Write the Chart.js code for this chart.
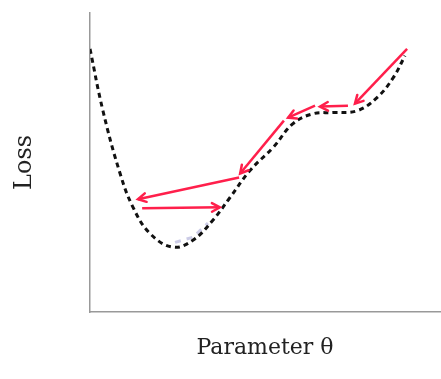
<!DOCTYPE html>
<html>
<head>
<meta charset="utf-8">
<script src="https://cdn.jsdelivr.net/npm/chart.js@4"></script>
<style>
  html, body { margin: 0; padding: 0; background: #fff; }
  #wrap { width: 441px; height: 379px; }
</style>
</head>
<body>
<div id="wrap"><canvas id="loss-chart"></canvas></div>
<script>
// loss curve (theta, loss)
var curveX = [0, 0.37, 0.86, 1.23, 1.71, 2.37, 2.94, 3.51, 4.0, 4.57, 5.23, 5.8, 6.37, 6.94, 7.63, 8.2, 8.66, 9.0];
var curveY = [8.8, 6.73, 4.63, 3.5, 2.63, 2.17, 2.4, 3.07, 3.83, 4.73, 5.5, 6.3, 6.63, 6.67, 6.73, 7.17, 7.83, 8.57];

// gradient descent steps: [fromX, fromY, toX, toY]
var steps = [
  [9.06, 8.8, 7.57, 6.97],
  [7.37, 6.9, 6.57, 6.87],
  [6.43, 6.9, 5.66, 6.5],
  [5.54, 6.4, 4.29, 4.63],
  [4.26, 4.5, 1.37, 3.77],
  [1.49, 3.47, 3.71, 3.5]
];

// faint marks near the minimum
var faintX = [2.43, 2.94, 3.37];
var faintY = [2.33, 2.5, 2.97];

var curvePts = curveX.map(function (x, i) { return { x: x, y: curveY[i] }; });

var datasets = [{
  data: curvePts,
  borderColor: '#111',
  borderWidth: 3,
  borderDash: [5, 4],
  pointRadius: 0,
  tension: 0.4,
  fill: false
}, {
  data: faintX.map(function (x, i) { return { x: x, y: faintY[i] }; }),
  borderColor: 'rgba(140,140,200,0.45)',
  borderWidth: 3,
  borderDash: [6, 6],
  pointRadius: 0,
  fill: false
}];

steps.forEach(function (s) {
  datasets.push({
    data: [{ x: s[0], y: s[1] }, { x: s[2], y: s[3] }],
    borderColor: '#ff1f4b',
    borderWidth: 2.5,
    pointRadius: 0,
    fill: false,
    arrow: true
  });
});

var arrowHeads = {
  id: 'arrowHeads',
  afterDatasetsDraw: function (chart) {
    var ctx = chart.ctx, xs = chart.scales.x, ys = chart.scales.y;
    ctx.save();
    chart.data.datasets.forEach(function (ds) {
      if (!ds.arrow) return;
      var a = ds.data[0], b = ds.data[1];
      var x1 = xs.getPixelForValue(a.x), y1 = ys.getPixelForValue(a.y);
      var x2 = xs.getPixelForValue(b.x), y2 = ys.getPixelForValue(b.y);
      var ang = Math.atan2(y2 - y1, x2 - x1), len = 9;
      ctx.strokeStyle = ds.borderColor;
      ctx.lineWidth = 2.5;
      ctx.lineCap = 'round';
      ctx.beginPath();
      ctx.moveTo(x2 - len * Math.cos(ang - 0.5), y2 - len * Math.sin(ang - 0.5));
      ctx.lineTo(x2, y2);
      ctx.lineTo(x2 - len * Math.cos(ang + 0.5), y2 - len * Math.sin(ang + 0.5));
      ctx.stroke();
    });
    ctx.restore();
  }
};

new Chart(document.getElementById('loss-chart'), {
  type: 'line',
  data: { datasets: datasets },
  plugins: [arrowHeads],
  options: {
    responsive: true,
    maintainAspectRatio: false,
    animation: false,
    layout: { padding: { top: 13, right: 1, left: 0, bottom: 0 } },
    plugins: { legend: { display: false }, tooltip: { enabled: false } },
    scales: {
      x: {
        type: 'linear',
        min: 0,
        max: 10,
        grid: { display: false },
        border: { display: true, color: '#999', width: 1.5 },
        ticks: { display: false },
        title: {
          display: true,
          text: 'Parameter θ',
          color: '#222',
          font: { family: 'DejaVu Serif', size: 22 },
          padding: { top: 0, bottom: 18 }
        },
        afterFit: function (scale) { scale.height = 67; }
      },
      y: {
        min: 0,
        max: 10,
        grid: { display: false },
        border: { display: true, color: '#999', width: 1.5 },
        ticks: { display: false },
        title: {
          display: true,
          text: 'Loss',
          color: '#222',
          font: { family: 'DejaVu Serif', size: 24 },
          padding: { top: 10, bottom: 0 }
        },
        afterFit: function (scale) { scale.width = 90; }
      }
    }
  }
});
</script>
</body>
</html>
